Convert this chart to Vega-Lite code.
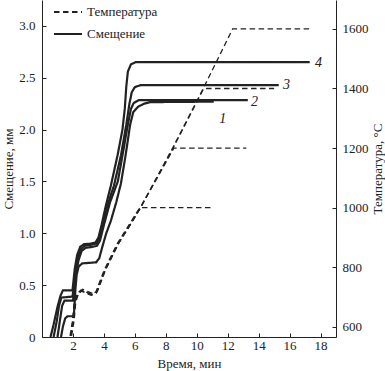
{
  "$schema": "https://vega.github.io/schema/vega-lite/v6.json",
  "width": 294,
  "height": 337,
  "autosize": {"type": "none"},
  "padding": {"left": 42, "top": 0, "right": 49, "bottom": 34},
  "config": {
    "view": {"stroke": null},
    "font": "Liberation Serif",
    "axis": {
      "grid": false,
      "domainColor": "#222",
      "tickColor": "#222",
      "labelColor": "#222",
      "titleColor": "#222",
      "labelFont": "Liberation Serif",
      "titleFont": "Liberation Serif",
      "labelFontSize": 13,
      "titleFontSize": 13,
      "titleFontWeight": "normal",
      "tickSize": -4,
      "domainWidth": 1,
      "tickWidth": 1,
      "labelOverlap": false
    },
    "legend": {
      "labelFont": "Liberation Serif",
      "labelFontSize": 13,
      "labelColor": "#222"
    }
  },
  "datasets": {
    "temp": [
      {"c": "T1", "kind": "Температура", "t": 1.72, "v": 540},
      {"c": "T1", "kind": "Температура", "t": 1.98, "v": 623},
      {"c": "T1", "kind": "Температура", "t": 2.08, "v": 683},
      {"c": "T1", "kind": "Температура", "t": 2.26, "v": 710},
      {"c": "T1", "kind": "Температура", "t": 2.52, "v": 724},
      {"c": "T1", "kind": "Температура", "t": 2.84, "v": 717},
      {"c": "T1", "kind": "Температура", "t": 3.16, "v": 710},
      {"c": "T1", "kind": "Температура", "t": 3.48, "v": 717},
      {"c": "T1", "kind": "Температура", "t": 4.02, "v": 791},
      {"c": "T1", "kind": "Температура", "t": 4.88, "v": 881},
      {"c": "T1", "kind": "Температура", "t": 5.74, "v": 952},
      {"c": "T1", "kind": "Температура", "t": 6.32, "v": 1000},
      {"c": "T1", "kind": "Температура", "t": 11.0, "v": 1000},

      {"c": "T2", "kind": "Температура", "t": 1.82, "v": 540},
      {"c": "T2", "kind": "Температура", "t": 2.08, "v": 623},
      {"c": "T2", "kind": "Температура", "t": 2.18, "v": 683},
      {"c": "T2", "kind": "Температура", "t": 2.36, "v": 712},
      {"c": "T2", "kind": "Температура", "t": 2.62, "v": 726},
      {"c": "T2", "kind": "Температура", "t": 2.94, "v": 719},
      {"c": "T2", "kind": "Температура", "t": 3.26, "v": 712},
      {"c": "T2", "kind": "Температура", "t": 3.58, "v": 719},
      {"c": "T2", "kind": "Температура", "t": 4.12, "v": 793},
      {"c": "T2", "kind": "Температура", "t": 4.98, "v": 883},
      {"c": "T2", "kind": "Температура", "t": 5.84, "v": 954},
      {"c": "T2", "kind": "Температура", "t": 6.45, "v": 1010},
      {"c": "T2", "kind": "Температура", "t": 7.5, "v": 1105},
      {"c": "T2", "kind": "Температура", "t": 8.52, "v": 1200},
      {"c": "T2", "kind": "Температура", "t": 13.2, "v": 1200},

      {"c": "T3", "kind": "Температура", "t": 1.78, "v": 540},
      {"c": "T3", "kind": "Температура", "t": 2.03, "v": 625},
      {"c": "T3", "kind": "Температура", "t": 2.13, "v": 685},
      {"c": "T3", "kind": "Температура", "t": 2.31, "v": 708},
      {"c": "T3", "kind": "Температура", "t": 2.57, "v": 722},
      {"c": "T3", "kind": "Температура", "t": 2.89, "v": 715},
      {"c": "T3", "kind": "Температура", "t": 3.21, "v": 708},
      {"c": "T3", "kind": "Температура", "t": 3.53, "v": 715},
      {"c": "T3", "kind": "Температура", "t": 4.07, "v": 789},
      {"c": "T3", "kind": "Температура", "t": 4.93, "v": 879},
      {"c": "T3", "kind": "Температура", "t": 5.79, "v": 950},
      {"c": "T3", "kind": "Температура", "t": 6.4, "v": 1002},
      {"c": "T3", "kind": "Температура", "t": 8.45, "v": 1198},
      {"c": "T3", "kind": "Температура", "t": 10.45, "v": 1400},
      {"c": "T3", "kind": "Температура", "t": 15.0, "v": 1400},

      {"c": "T4", "kind": "Температура", "t": 1.75, "v": 540},
      {"c": "T4", "kind": "Температура", "t": 2.0, "v": 621},
      {"c": "T4", "kind": "Температура", "t": 2.1, "v": 681},
      {"c": "T4", "kind": "Температура", "t": 2.28, "v": 706},
      {"c": "T4", "kind": "Температура", "t": 2.54, "v": 720},
      {"c": "T4", "kind": "Температура", "t": 2.86, "v": 713},
      {"c": "T4", "kind": "Температура", "t": 3.18, "v": 706},
      {"c": "T4", "kind": "Температура", "t": 3.5, "v": 713},
      {"c": "T4", "kind": "Температура", "t": 4.04, "v": 787},
      {"c": "T4", "kind": "Температура", "t": 4.9, "v": 877},
      {"c": "T4", "kind": "Температура", "t": 5.76, "v": 948},
      {"c": "T4", "kind": "Температура", "t": 6.36, "v": 1000},
      {"c": "T4", "kind": "Температура", "t": 8.4, "v": 1196},
      {"c": "T4", "kind": "Температура", "t": 10.4, "v": 1398},
      {"c": "T4", "kind": "Температура", "t": 12.32, "v": 1600},
      {"c": "T4", "kind": "Температура", "t": 17.35, "v": 1600}
    ],
    "disp": [
      {"c": "D4", "kind": "Смещение", "t": 0.55, "v": 0},
      {"c": "D4", "kind": "Смещение", "t": 0.75, "v": 0.12},
      {"c": "D4", "kind": "Смещение", "t": 1.0, "v": 0.29},
      {"c": "D4", "kind": "Смещение", "t": 1.2, "v": 0.4},
      {"c": "D4", "kind": "Смещение", "t": 1.35, "v": 0.45},
      {"c": "D4", "kind": "Смещение", "t": 1.97, "v": 0.45},
      {"c": "D4", "kind": "Смещение", "t": 2.02, "v": 0.52},
      {"c": "D4", "kind": "Смещение", "t": 2.12, "v": 0.66},
      {"c": "D4", "kind": "Смещение", "t": 2.27, "v": 0.79},
      {"c": "D4", "kind": "Смещение", "t": 2.47, "v": 0.87},
      {"c": "D4", "kind": "Смещение", "t": 2.72, "v": 0.895},
      {"c": "D4", "kind": "Смещение", "t": 3.1, "v": 0.9},
      {"c": "D4", "kind": "Смещение", "t": 3.45, "v": 0.91},
      {"c": "D4", "kind": "Смещение", "t": 3.65, "v": 0.96},
      {"c": "D4", "kind": "Смещение", "t": 3.85, "v": 1.08},
      {"c": "D4", "kind": "Смещение", "t": 4.1, "v": 1.25},
      {"c": "D4", "kind": "Смещение", "t": 4.45, "v": 1.46},
      {"c": "D4", "kind": "Смещение", "t": 4.88, "v": 1.75},
      {"c": "D4", "kind": "Смещение", "t": 5.2, "v": 2.0},
      {"c": "D4", "kind": "Смещение", "t": 5.35, "v": 2.2},
      {"c": "D4", "kind": "Смещение", "t": 5.45, "v": 2.42},
      {"c": "D4", "kind": "Смещение", "t": 5.55, "v": 2.56},
      {"c": "D4", "kind": "Смещение", "t": 5.75, "v": 2.63},
      {"c": "D4", "kind": "Смещение", "t": 6.05, "v": 2.65},
      {"c": "D4", "kind": "Смещение", "t": 17.3, "v": 2.65},

      {"c": "D3", "kind": "Смещение", "t": 0.75, "v": 0},
      {"c": "D3", "kind": "Смещение", "t": 0.95, "v": 0.15},
      {"c": "D3", "kind": "Смещение", "t": 1.1, "v": 0.3},
      {"c": "D3", "kind": "Смещение", "t": 1.25, "v": 0.38},
      {"c": "D3", "kind": "Смещение", "t": 1.97, "v": 0.39},
      {"c": "D3", "kind": "Смещение", "t": 2.04, "v": 0.46},
      {"c": "D3", "kind": "Смещение", "t": 2.15, "v": 0.63},
      {"c": "D3", "kind": "Смещение", "t": 2.32, "v": 0.77},
      {"c": "D3", "kind": "Смещение", "t": 2.52, "v": 0.85},
      {"c": "D3", "kind": "Смещение", "t": 2.77, "v": 0.88},
      {"c": "D3", "kind": "Смещение", "t": 3.2, "v": 0.89},
      {"c": "D3", "kind": "Смещение", "t": 3.5, "v": 0.9},
      {"c": "D3", "kind": "Смещение", "t": 3.7, "v": 0.95},
      {"c": "D3", "kind": "Смещение", "t": 3.95, "v": 1.1},
      {"c": "D3", "kind": "Смещение", "t": 4.25, "v": 1.28},
      {"c": "D3", "kind": "Смещение", "t": 4.65, "v": 1.46},
      {"c": "D3", "kind": "Смещение", "t": 5.1, "v": 1.75},
      {"c": "D3", "kind": "Смещение", "t": 5.45, "v": 2.05},
      {"c": "D3", "kind": "Смещение", "t": 5.65, "v": 2.25},
      {"c": "D3", "kind": "Смещение", "t": 5.8, "v": 2.36},
      {"c": "D3", "kind": "Смещение", "t": 6.0, "v": 2.41},
      {"c": "D3", "kind": "Смещение", "t": 6.4, "v": 2.43},
      {"c": "D3", "kind": "Смещение", "t": 15.3, "v": 2.43},

      {"c": "D2", "kind": "Смещение", "t": 1.0, "v": 0},
      {"c": "D2", "kind": "Смещение", "t": 1.15, "v": 0.15},
      {"c": "D2", "kind": "Смещение", "t": 1.3, "v": 0.3},
      {"c": "D2", "kind": "Смещение", "t": 1.45, "v": 0.35},
      {"c": "D2", "kind": "Смещение", "t": 2.0, "v": 0.35},
      {"c": "D2", "kind": "Смещение", "t": 2.07, "v": 0.43},
      {"c": "D2", "kind": "Смещение", "t": 2.19, "v": 0.6},
      {"c": "D2", "kind": "Смещение", "t": 2.36, "v": 0.74},
      {"c": "D2", "kind": "Смещение", "t": 2.56, "v": 0.83},
      {"c": "D2", "kind": "Смещение", "t": 2.82, "v": 0.86},
      {"c": "D2", "kind": "Смещение", "t": 3.3, "v": 0.87},
      {"c": "D2", "kind": "Смещение", "t": 3.55, "v": 0.88},
      {"c": "D2", "kind": "Смещение", "t": 3.75, "v": 0.93},
      {"c": "D2", "kind": "Смещение", "t": 4.0, "v": 1.08},
      {"c": "D2", "kind": "Смещение", "t": 4.4, "v": 1.3},
      {"c": "D2", "kind": "Смещение", "t": 4.9, "v": 1.5},
      {"c": "D2", "kind": "Смещение", "t": 5.2, "v": 1.75},
      {"c": "D2", "kind": "Смещение", "t": 5.55, "v": 2.05},
      {"c": "D2", "kind": "Смещение", "t": 5.75, "v": 2.2},
      {"c": "D2", "kind": "Смещение", "t": 5.92, "v": 2.255},
      {"c": "D2", "kind": "Смещение", "t": 6.26, "v": 2.285},
      {"c": "D2", "kind": "Смещение", "t": 13.3, "v": 2.285},

      {"c": "D1", "kind": "Смещение", "t": 1.23, "v": 0},
      {"c": "D1", "kind": "Смещение", "t": 1.35, "v": 0.1},
      {"c": "D1", "kind": "Смещение", "t": 1.5, "v": 0.18},
      {"c": "D1", "kind": "Смещение", "t": 1.65, "v": 0.2},
      {"c": "D1", "kind": "Смещение", "t": 2.05, "v": 0.2},
      {"c": "D1", "kind": "Смещение", "t": 2.1, "v": 0.3},
      {"c": "D1", "kind": "Смещение", "t": 2.16, "v": 0.46},
      {"c": "D1", "kind": "Смещение", "t": 2.24, "v": 0.6},
      {"c": "D1", "kind": "Смещение", "t": 2.37, "v": 0.68},
      {"c": "D1", "kind": "Смещение", "t": 2.6, "v": 0.71},
      {"c": "D1", "kind": "Смещение", "t": 3.5, "v": 0.72},
      {"c": "D1", "kind": "Смещение", "t": 3.7, "v": 0.76},
      {"c": "D1", "kind": "Смещение", "t": 3.9, "v": 0.87},
      {"c": "D1", "kind": "Смещение", "t": 4.15, "v": 1.0},
      {"c": "D1", "kind": "Смещение", "t": 4.45, "v": 1.12},
      {"c": "D1", "kind": "Смещение", "t": 4.8, "v": 1.3},
      {"c": "D1", "kind": "Смещение", "t": 5.1, "v": 1.48},
      {"c": "D1", "kind": "Смещение", "t": 5.4, "v": 1.75},
      {"c": "D1", "kind": "Смещение", "t": 5.7, "v": 2.05},
      {"c": "D1", "kind": "Смещение", "t": 5.9, "v": 2.17},
      {"c": "D1", "kind": "Смещение", "t": 6.2, "v": 2.22},
      {"c": "D1", "kind": "Смещение", "t": 6.6, "v": 2.25},
      {"c": "D1", "kind": "Смещение", "t": 7.0, "v": 2.265},
      {"c": "D1", "kind": "Смещение", "t": 11.1, "v": 2.27}
    ],
    "labels": [
      {"label": "1", "t": 11.68, "v": 2.105},
      {"label": "2", "t": 13.74, "v": 2.27},
      {"label": "3", "t": 15.8, "v": 2.43},
      {"label": "4", "t": 17.87, "v": 2.64}
    ]
  },
  "layer": [
    {
      "data": {"name": "temp"},
      "mark": {"type": "line", "strokeWidth": 1.3, "color": "#222", "clip": true},
      "encoding": {
        "x": {
          "field": "t", "type": "quantitative",
          "scale": {"domain": [0, 19], "nice": false, "zero": false},
          "axis": {"title": "Время, мин", "tickCount": 10, "labelExpr": "datum.value == 0 ? '' : datum.label", "labelOverlap": false, "labelSeparation": -30, "labelPadding": 6, "titlePadding": 5}
        },
        "y": {
          "field": "v", "type": "quantitative",
          "scale": {"domain": [566, 1697], "nice": false, "zero": false},
          "axis": {"orient": "right", "title": "Температура, °C", "format": "d", "values": [600, 800, 1000, 1200, 1400, 1600], "labelOverlap": false, "labelPadding": 10, "titleAngle": -90, "titleBaseline": "top", "titlePadding": 3}
        },
        "detail": {"field": "c"},
        "strokeDash": {
          "field": "kind", "type": "nominal",
          "scale": {"domain": ["Температура", "Смещение"], "range": [[5.5, 3.5], [1, 0]]},
          "legend": {
            "title": null, "orient": "none", "legendX": 11, "legendY": -3,
            "symbolType": "stroke", "symbolSize": 784, "symbolStrokeColor": "#222", "symbolStrokeWidth": 1.8,
            "labelOffset": 4, "rowPadding": -14, "padding": 0
          }
        }
      }
    },
    {
      "layer": [
        {
          "data": {"name": "disp"},
          "mark": {"type": "line", "strokeWidth": 2.2, "color": "#222", "clip": true},
          "encoding": {
            "x": {"field": "t", "type": "quantitative"},
            "y": {
              "field": "v", "type": "quantitative",
              "scale": {"domain": [0, 3.25], "nice": false},
              "axis": {"title": "Смещение, мм", "values": [0, 0.5, 1, 1.5, 2, 2.5, 3], "labelExpr": "datum.value == 0 ? '0' : format(datum.value, '.1f')", "labelPadding": 11, "titlePadding": 3}
            },
            "detail": {"field": "c"},
            "strokeDash": {"field": "kind", "type": "nominal"}
          }
        },
        {
          "data": {"name": "labels"},
          "mark": {"type": "text", "fontStyle": "italic", "fontSize": 14, "font": "Liberation Serif", "color": "#222"},
          "encoding": {
            "x": {"field": "t", "type": "quantitative"},
            "y": {"field": "v", "type": "quantitative"},
            "text": {"field": "label"}
          }
        }
      ]
    }
  ],
  "resolve": {"scale": {"y": "independent"}}
}
